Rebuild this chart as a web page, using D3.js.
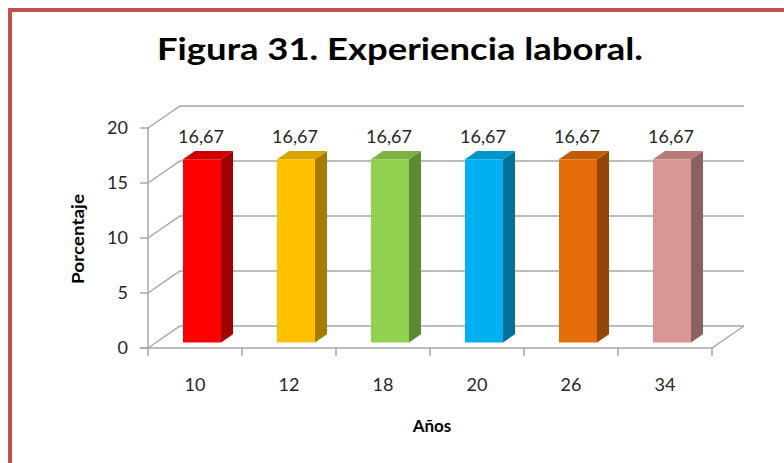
<!DOCTYPE html>
<html>
<head>
<meta charset="utf-8">
<script src="https://cdn.jsdelivr.net/npm/d3@7"></script>
<style>
  html, body { margin: 0; padding: 0; background: #fff; }
  #chart { width: 784px; height: 463px; }
</style>
</head>
<body>
<div id="chart"></div>
<script>
// datos del gráfico
const categories = ['10', '12', '18', '20', '26', '34'];
const values = [16.67, 16.67, 16.67, 16.67, 16.67, 16.67];
const yTicks = [0, 5, 10, 15, 20];
const frontColors = ['#ff0000', '#ffc000', '#92d050', '#00b0f0', '#e46c0a', '#d99694'];
const sideColors = ['#a00000', '#a67c00', '#5f8734', '#00729c', '#944607', '#8d6160'];
const topColors = ['#cc0000', '#d9a300', '#7cb244', '#0096cc', '#c25c08', '#b87b7a'];

const FONT = 'Lato, "Open Sans", sans-serif';

class Chart3D {

  constructor(id) {
    this.scene = d3.select('#' + id).append('svg')
        .attr('width', 784)
        .attr('height', 463);
    // desplazamiento de profundidad (pared trasera)
    this.depth = {dx: 32, dy: -22};
    this.x = d3.scaleBand().domain(categories).range([148, 712]);
    this.y = d3.scaleLinear().domain([0, 20]).range([348, 128]);
  }

  // proyeccion: x en pixeles del plano frontal, valor, profundidad 0..1
  p(px, v, z) {
    return [px + z * this.depth.dx, this.y(v) + z * this.depth.dy];
  }

  draw() {
    this.drawFrame();
    this.drawWalls();
    this.drawAxes();
    this.drawBars();
    this.drawTexts();
  }

  drawFrame() {
    this.scene.append('path')
        .attr('d', 'M10,470 L10,10 L790,10')
        .attr('fill', 'none')
        .attr('stroke', '#c0504d')
        .attr('stroke-width', 4);
  }

  drawWalls() {
    const g = this.scene.append('g')
        .attr('stroke', '#a6a6a6')
        .attr('stroke-width', 1.5)
        .attr('fill', 'none');
    const x0 = this.x.range()[0];
    const x1 = this.x.range()[1];
    // lineas de cuadricula: pared lateral + pared trasera
    yTicks.forEach((t) => {
      const a = this.p(x0, t, 0);
      const b = this.p(x0, t, 1);
      const c = this.p(x1, t, 1);
      g.append('path').attr('d', `M${a}L${b}L${c}`);
    });
    // borde derecho del suelo
    const f = this.p(x1, 0, 0);
    const r = this.p(x1, 0, 1);
    g.append('path').attr('d', `M${f}L${r}`);
  }

  drawAxes() {
    const g = this.scene.append('g')
        .attr('stroke', '#a6a6a6')
        .attr('stroke-width', 1.5)
        .attr('fill', 'none');
    const x0 = this.x.range()[0];
    const x1 = this.x.range()[1];
    g.append('line')
        .attr('x1', x0).attr('x2', x0)
        .attr('y1', this.y(20)).attr('y2', this.y(0) + 8);
    g.append('line')
        .attr('x1', x0 - 8).attr('x2', x1)
        .attr('y1', this.y(0)).attr('y2', this.y(0));
    yTicks.forEach((t) => {
      g.append('line')
          .attr('x1', x0 - 8).attr('x2', x0)
          .attr('y1', this.y(t)).attr('y2', this.y(t));
    });
    categories.forEach((c) => {
      const xt = this.x(c) + this.x.bandwidth();
      g.append('line')
          .attr('x1', xt).attr('x2', xt)
          .attr('y1', this.y(0)).attr('y2', this.y(0) + 8);
    });

    this.scene.append('g').selectAll('text')
        .data(yTicks).join('text')
        .attr('x', x0 - 20)
        .attr('y', (d) => this.y(d))
        .attr('dy', '0.36em')
        .attr('text-anchor', 'end')
        .attr('font-family', FONT)
        .attr('font-size', 18)
        .attr('fill', '#262626')
        .text((d) => d);

    this.scene.append('g').selectAll('text')
        .data(categories).join('text')
        .attr('x', (d) => this.x(d) + this.x.bandwidth() / 2)
        .attr('y', this.y(0) + 37)
        .attr('dy', '0.36em')
        .attr('text-anchor', 'middle')
        .attr('font-family', FONT)
        .attr('font-size', 18)
        .attr('fill', '#262626')
        .text((d) => d);
  }

  drawBars() {
    const bw = 38;
    const zf = 0.25;
    const zb = 0.625;
    const g = this.scene.append('g');
    categories.forEach((c, i) => {
      const v = values[i];
      const xl = this.x(c) + (this.x.bandwidth() - bw) / 2 - 1;
      const xr = xl + bw;
      const pts = (arr) => 'M' + arr.map((q) => this.p(q[0], q[1], q[2]).join(',')).join('L') + 'Z';
      // cara lateral
      g.append('path')
          .attr('d', pts([[xr, 0, zf], [xr, 0, zb], [xr, v, zb], [xr, v, zf]]))
          .attr('fill', sideColors[i]);
      // cara superior
      g.append('path')
          .attr('d', pts([[xl, v, zf], [xr, v, zf], [xr, v, zb], [xl, v, zb]]))
          .attr('fill', topColors[i]);
      // cara frontal
      g.append('path')
          .attr('d', pts([[xl, 0, zf], [xr, 0, zf], [xr, v, zf], [xl, v, zf]]))
          .attr('fill', frontColors[i]);
      // etiqueta
      const lp = this.p(xl + bw / 2, v, zf);
      g.append('text')
          .attr('x', lp[0] - 1)
          .attr('y', lp[1] - 16)
          .attr('text-anchor', 'middle')
          .attr('font-family', FONT)
          .attr('font-size', 18)
          .attr('fill', '#262626')
          .text(d3.format('.2f')(v).replace('.', ','));
    });
  }

  drawTexts() {
    this.scene.append('text')
        .attr('x', 157)
        .attr('y', 60)
        .attr('textLength', 486)
        .attr('lengthAdjust', 'spacingAndGlyphs')
        .attr('font-family', FONT)
        .attr('font-weight', 'bold')
        .attr('font-size', 31)
        .attr('fill', '#000')
        .text('Figura 31. Experiencia laboral.');

    this.scene.append('text')
        .attr('transform', 'translate(84,239) rotate(-90)')
        .attr('text-anchor', 'middle')
        .attr('font-family', FONT)
        .attr('font-weight', 'bold')
        .attr('font-size', 17)
        .attr('textLength', 90)
        .attr('lengthAdjust', 'spacingAndGlyphs')
        .attr('fill', '#000')
        .text('Porcentaje');

    this.scene.append('text')
        .attr('x', 432)
        .attr('y', 432)
        .attr('text-anchor', 'middle')
        .attr('font-family', FONT)
        .attr('font-weight', 'bold')
        .attr('font-size', 17)
        .attr('fill', '#000')
        .text('Años');
  }
}

new Chart3D('chart').draw();
</script>
</body>
</html>
